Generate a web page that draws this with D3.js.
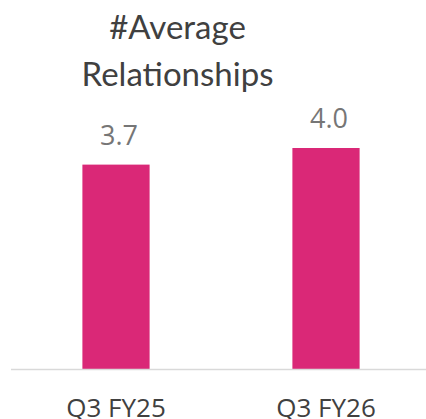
<!DOCTYPE html>
<html><head><meta charset="utf-8">
<script src="https://cdn.jsdelivr.net/npm/d3@7"></script>
<style>html,body{margin:0;padding:0;background:#fff;overflow:hidden}</style>
</head><body>
<svg id="c" width="426" height="419"></svg>
<script>
const categories = ["Q3 FY25", "Q3 FY26"];
const values = [3.7, 4.0];
const valueLabels = ["3.7", "4.0"];
const titleLines = ["#Average", "Relationships"];

const W = 426, H = 419;
const svg = d3.select("#c");
const baseY = 369.5;
const x = d3.scaleBand().domain(categories).range([11, 431]).paddingInner(0.68).paddingOuter(0.34);
const y = d3.scaleLinear().domain([0, 4]).range([baseY, 148]);

svg.selectAll("rect.bar").data(values).join("rect")
  .attr("class", "bar")
  .attr("x", (d, i) => x(categories[i]))
  .attr("width", x.bandwidth())
  .attr("y", d => y(d))
  .attr("height", d => y(0) - y(d))
  .attr("fill", "#DA2877");

svg.append("line").attr("x1", 11).attr("x2", W).attr("y1", baseY).attr("y2", baseY)
  .attr("stroke", "#d9d9d9").attr("stroke-width", 1.5);

svg.selectAll("text.val").data(values).join("text")
  .attr("class", "val")
  .attr("x", (d, i) => x(categories[i]) + x.bandwidth() / 2 + 3)
  .attr("y", d => y(d) - 20)
  .attr("text-anchor", "middle")
  .attr("font-family", "'Open Sans', sans-serif")
  .attr("font-size", 27)
  .attr("fill", "#767676")
  .text((d, i) => valueLabels[i]);

svg.selectAll("text.cat").data(categories).join("text")
  .attr("class", "cat")
  .attr("x", d => x(d) + x.bandwidth() / 2)
  .attr("y", 417)
  .attr("text-anchor", "middle")
  .attr("font-family", "'Open Sans', sans-serif")
  .attr("font-size", 26)
  .attr("fill", "#404040")
  .text(d => d);

svg.selectAll("text.title").data(titleLines).join("text")
  .attr("class", "title")
  .attr("x", 177.5)
  .attr("y", (d, i) => 39 + i * 47)
  .attr("text-anchor", "middle")
  .attr("font-family", "Lato, 'Open Sans', sans-serif")
  .attr("font-size", 33)
  .attr("fill", "#404040")
  .text(d => d);
</script>
</body></html>
